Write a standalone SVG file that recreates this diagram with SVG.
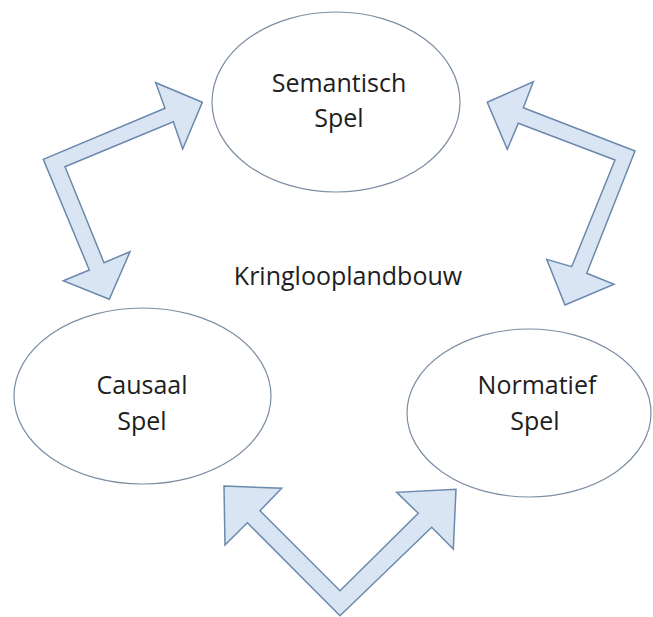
<svg xmlns="http://www.w3.org/2000/svg" width="653" height="617" viewBox="0 0 653 617">
  <style>
    .node ellipse { fill: #ffffff; stroke: #7d8ea3; stroke-width: 1.2; }
    .label { font-family: "Open Sans", "Noto Sans", "Liberation Sans", sans-serif; font-size: 25px; fill: #1e1e1e; text-anchor: middle; }
    .arrow { fill: #dae5f3; stroke: #6a89ad; stroke-width: 1.5; stroke-linejoin: miter; }
  </style>
  <rect width="653" height="617" fill="#ffffff"/>
  <g id="connectors">
    <polygon class="arrow" points="202.3,102.3 155.7,82.7 165,108.3 43.3,159.3 89.3,270 63.3,280.7 109.3,299.3 130,251.7 104,262.7 65,166.7 173.3,121.7 182.7,149"/>
    <polygon class="arrow" points="487.3,102.3 533.3,81.7 523.3,107.7 635,151 586.7,273.3 614,284.3 565,305 546.7,259.3 571.7,266.7 615,160 518.3,123.3 507.3,149.3"/>
    <polygon class="arrow" points="224,486 281.7,488.3 260,510.7 340,590.7 418.3,513.3 396.7,492.3 456,489.3 453.3,549 431.7,527.3 340,615.7 247.3,522.7 225,545"/>
  </g>
  <g id="semantisch" class="node">
    <ellipse cx="336" cy="102" rx="124" ry="90"/>
    <text class="label" x="339" y="92">Semantisch</text>
    <text class="label" x="339" y="127">Spel</text>
  </g>
  <g id="causaal" class="node">
    <ellipse cx="142.5" cy="396" rx="128.5" ry="88"/>
    <text class="label" x="142" y="394">Causaal</text>
    <text class="label" x="142" y="430">Spel</text>
  </g>
  <g id="normatief" class="node">
    <ellipse cx="529" cy="413" rx="122" ry="84"/>
    <text class="label" x="537" y="394">Normatief</text>
    <text class="label" x="535" y="430">Spel</text>
  </g>
  <g id="title">
    <text class="label" x="348" y="285">Kringlooplandbouw</text>
  </g>
</svg>
